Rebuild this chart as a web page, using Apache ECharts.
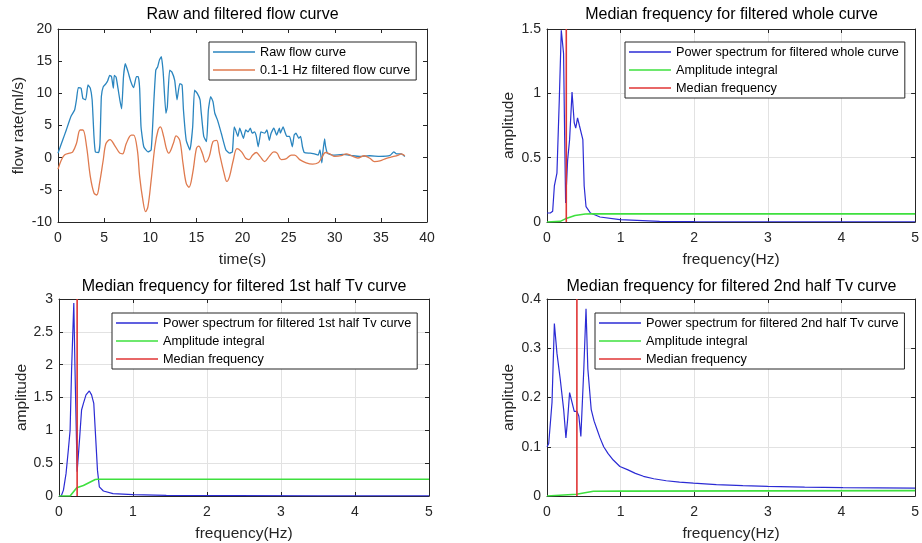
<!DOCTYPE html>
<html><head><meta charset="utf-8">
<script src="https://cdn.jsdelivr.net/npm/echarts@6/dist/echarts.min.js"></script>
<style>html,body{margin:0;padding:0;background:#fff}#c{width:922px;height:543px}</style>
</head><body><div id="c"></div><script>
// ---------- DATA ----------
const rawTime = [0,0.5,0.9,1.4,1.8,2.0,2.2,2.5,2.7,3.0,3.25,3.5,3.7,3.9,4.05,4.4,4.55,4.7,4.9,5.2,5.4,5.6,5.8,6.0,6.1,6.3,6.5,6.7,6.9,7.1,7.3,7.6,7.9,8.2,8.5,8.7,8.85,9.0,9.3,9.75,10.1,10.4,10.6,10.8,11.0,11.2,11.4,11.7,11.85,12.1,12.35,12.65,12.9,13.2,13.45,13.6,13.9,14.3,14.6,14.8,15.1,15.4,15.5,15.8,16.1,16.3,16.55,16.8,17.0,17.3,17.7,18.2,18.6,18.9,19.1,19.25,19.5,19.7,19.9,20.1,20.35,20.6,20.85,21.05,21.3,21.5,21.7,21.9,22.0,22.4,22.65,22.9,23.1,23.4,23.7,24.0,24.1,24.4,24.6,24.8,25.1,25.4,25.6,25.8,26.1,26.3,26.5,26.7,27.3,27.8,28.2,28.4,28.6,28.7,28.9,29.0,29.2,29.8,30.9,31.95,32.7,33.8,34.9,36.0,36.4,36.7,37.2,37.6];
const rawFlow = [0.7,2.7,4.3,6.4,7.4,9.0,10.9,10.8,9.2,9.0,11.3,10.8,9.0,3.3,0.9,0.8,2.2,9.5,11.0,11.5,12.0,12.8,12.6,10.8,12.8,12.5,10.8,9.0,7.6,12.6,14.6,13.3,11.8,10.9,12.6,12.6,10.8,4.8,1.7,0.9,1.2,9.0,13.6,14.1,15.2,15.7,13.3,6.9,7.9,13.6,13.3,12.0,9.0,11.5,11.3,7.4,2.7,1.2,4.8,10.5,10.0,9.0,7.4,3.3,2.5,7.4,9.5,8.7,6.9,5.8,3.8,1.2,0.7,0.9,4.8,4.3,3.3,4.6,3.8,3.0,4.3,4.0,4.6,3.8,4.0,3.3,1.7,3.3,4.0,3.8,4.3,2.7,3.8,4.6,3.5,4.6,3.8,4.8,4.0,3.3,3.3,1.7,3.5,3.8,3.0,3.3,1.7,0.8,0.7,0.6,0.4,1.2,-0.8,0.7,2.9,1.8,0.7,0.4,0.5,0.3,0.2,0.3,0.2,0.35,0.9,0.6,0.6,0.2];
const filtTime = [0,0.35,0.7,1.25,1.6,2.0,2.4,2.7,3.1,3.5,3.9,4.2,4.5,4.9,5.2,5.65,6.1,6.7,7.0,7.4,7.95,8.2,8.6,8.85,9.2,9.5,9.75,10.1,10.5,10.85,11.1,11.45,11.75,12.0,12.5,12.8,13.2,13.55,13.9,14.2,14.6,15.0,15.25,15.65,16.0,16.4,16.8,17.2,17.5,18.0,18.3,18.6,19.0,19.4,19.9,20.35,20.7,21.1,21.5,21.9,22.4,22.9,23.4,23.75,24.2,24.7,25.3,25.65,26.2,26.9,27.6,28.2,28.55,29.0,29.45,30.0,30.7,31.25,31.8,32.5,33.2,33.8,34.3,34.9,35.6,36.3,36.9,37.2,37.6];
const filtFlow = [-1.8,-0.4,0.4,0.7,0.9,2.2,4.3,4.3,1.7,-2.9,-5.5,-5.8,-4.0,-0.4,2.2,2.8,2.0,0.7,0.6,2.2,3.5,3.5,1.2,-2.9,-6.6,-8.4,-7.6,-3.5,1.7,4.3,4.8,3.3,1.4,0.7,2.2,3.4,2.7,-0.9,-4.0,-4.6,-2.4,1.4,1.8,0.7,-0.7,0.2,2.5,2.7,0.7,-2.4,-3.7,-2.9,-0.4,1.4,0.9,-0.1,-0.3,0.4,0.8,0.2,-0.6,0.2,0.9,0.7,-0.3,-0.2,0.4,0.4,-0.3,-0.8,-1.0,-0.8,-0.1,0.8,0.6,0.2,0.3,0.6,0.3,-0.05,0.3,-0.1,-0.6,-0.5,-0.1,0.15,0.4,0.6,0.3];

const wholeFreq = [0,0.045,0.077,0.1,0.135,0.167,0.194,0.2,0.225,0.24,0.253,0.28,0.307,0.34,0.37,0.39,0.415,0.44,0.465,0.487,0.505,0.53,0.59,0.72,0.99,1.53,2,3,4,5];
const wholeAmp  = [0.07,0.07,0.083,0.28,0.38,0.95,1.49,1.49,1.31,0.66,0.147,0.48,0.64,1.01,0.77,0.73,0.81,0.75,0.75,0.64,0.28,0.12,0.07,0.039,0.018,0.005,0.003,0.002,0.002,0.002];
const wholeIntFreq = [0,0.18,0.27,0.38,0.52,0.6,5];
const wholeInt     = [0,0.005,0.03,0.05,0.062,0.063,0.063];
const wholeMedian = 0.262;

const firstFreq = [0,0.03,0.06,0.095,0.126,0.15,0.17,0.2,0.215,0.245,0.28,0.305,0.33,0.365,0.41,0.44,0.47,0.495,0.52,0.545,0.6,0.73,1.0,1.45,2.36,3.5,5];
const firstAmp  = [0,0,0.09,0.34,0.7,1.0,1.92,2.94,2.0,0.37,0.9,1.31,1.41,1.54,1.6,1.54,1.41,0.9,0.39,0.14,0.076,0.036,0.02,0.01,0.005,0.003,0.003];
const firstIntFreq = [0,0.15,0.24,0.33,0.49,0.52,5];
const firstInt     = [0,0,0.127,0.16,0.25,0.255,0.255];
const firstMedian = 0.245;

const secondFreq = [0,0.023,0.045,0.068,0.1,0.135,0.18,0.226,0.257,0.28,0.307,0.34,0.37,0.406,0.433,0.46,0.48,0.5,0.53,0.555,0.6,0.64,0.68,0.72,0.77,0.83,0.9,0.99,1.1,1.2,1.31,1.45,1.62,1.8,1.99,2.3,2.66,3.0,3.5,4.02,4.5,5];
const secondAmp  = [0.1,0.106,0.107,0.19,0.35,0.29,0.237,0.176,0.118,0.155,0.21,0.19,0.172,0.172,0.162,0.121,0.121,0.258,0.38,0.258,0.176,0.152,0.135,0.118,0.1,0.086,0.073,0.06,0.053,0.046,0.04,0.035,0.031,0.028,0.026,0.023,0.021,0.0195,0.018,0.017,0.0165,0.016];
const secondIntFreq = [0,0.4,0.63,1,5];
const secondInt     = [0,0.0035,0.0095,0.01,0.011];
const secondMedian = 0.406;

// ---------- CHART ----------
const FONT = '"Liberation Sans", Arial, sans-serif';
const INK = '#262626';
const zip = (a,b) => a.map((v,i)=>[v,b[i]]);

const grids = [
  {left:58, top:29, width:369, height:193},
  {left:547, top:29, width:369, height:193},
  {left:59, top:299, width:370, height:197},
  {left:547, top:299, width:369, height:197}
];
const axCfg = [
  {x:[0,40,5], y:[-10,20,5], xname:'time(s)', yname:'flow rate(ml/s)', ygap:31, split:false},
  {x:[0,5,1], y:[0,1.5,0.5], xname:'frequency(Hz)', yname:'amplitude', ygap:30, split:true},
  {x:[0,5,1], y:[0,3,0.5], xname:'frequency(Hz)', yname:'amplitude', ygap:29, split:true},
  {x:[0,5,1], y:[0,0.4,0.1], xname:'frequency(Hz)', yname:'amplitude', ygap:30, split:true}
];
const xAxis = [], yAxis = [];
axCfg.forEach((c,gi)=>{
  const common = () => ({type:'value', gridIndex:gi, axisLine:{show:true,onZero:false,lineStyle:{color:INK,width:1}},
    axisTick:{show:true,inside:true,length:4,lineStyle:{color:INK}}});
  xAxis.push(Object.assign(common(), {position:'bottom', min:c.x[0], max:c.x[1], interval:c.x[2],
    name:c.xname, nameLocation:'middle', nameGap:30, nameTextStyle:{fontSize:15.5,color:INK,fontFamily:FONT},
    axisLabel:{fontSize:14,color:INK,fontFamily:FONT,margin:9},
    splitLine:{show:c.split,lineStyle:{color:'#e2e2e2',width:1}}}));
  xAxis.push(Object.assign(common(), {position:'top', min:c.x[0], max:c.x[1], interval:c.x[2],
    axisLabel:{show:false}, splitLine:{show:false}}));
  yAxis.push(Object.assign(common(), {position:'left', min:c.y[0], max:c.y[1], interval:c.y[2],
    name:c.yname, nameLocation:'middle', nameGap:c.ygap, nameTextStyle:{fontSize:15.5,color:INK,fontFamily:FONT},
    axisLabel:{fontSize:14,color:INK,fontFamily:FONT,margin:6},
    splitLine:{show:c.split,lineStyle:{color:'#e2e2e2',width:1}}}));
  yAxis.push(Object.assign(common(), {position:'right', min:c.y[0], max:c.y[1], interval:c.y[2],
    axisLabel:{show:false}, splitLine:{show:false}}));
});

const BLUE = '#2b2bd4', GREEN = '#3ee03e', RED = '#e03434';
function line(name, gi, data, color, width, smooth){
  return {type:'line', name, xAxisIndex:gi*2, yAxisIndex:gi*2, data, symbol:'none', showSymbol:false,
    smooth: smooth||false, lineStyle:{color, width}, itemStyle:{color}, animation:false, silent:true};
}
const series = [
  line('Raw flow curve',0,zip(rawTime,rawFlow),'#2a85bf',1.3,0.15),
  line('0.1-1 Hz filtered flow curve',0,zip(filtTime,filtFlow),'#df7a4e',1.3,0.35),

  line('Power spectrum for filtered whole curve',1,zip(wholeFreq,wholeAmp),BLUE,1.2),
  line('Amplitude integral',1,zip(wholeIntFreq,wholeInt),GREEN,1.6),
  line('Median frequency',1,[[wholeMedian,0],[wholeMedian,1.5]],RED,1.6),

  line('Power spectrum for filtered 1st half Tv curve',2,zip(firstFreq,firstAmp),BLUE,1.2),
  line('Amplitude integral',2,zip(firstIntFreq,firstInt),GREEN,1.6),
  line('Median frequency',2,[[firstMedian,0],[firstMedian,3]],RED,1.6),

  line('Power spectrum for filtered 2nd half Tv curve',3,zip(secondFreq,secondAmp),BLUE,1.2),
  line('Amplitude integral',3,zip(secondIntFreq,secondInt),GREEN,1.6),
  line('Median frequency',3,[[secondMedian,0],[secondMedian,0.4]],RED,1.6)
];

function legend(left, top, names){
  return {left, top, orient:'vertical', icon:'rect', itemWidth:42, itemHeight:1.5, itemGap:2,
    padding:[2,6,2,4], backgroundColor:'#fff', borderColor:INK, borderWidth:1, borderRadius:0,
    selectedMode:false, textStyle:{fontSize:12.7,color:'#000',fontFamily:FONT,lineHeight:16}, data:names};
}
const legends = [
  legend(209,42,['Raw flow curve','0.1-1 Hz filtered flow curve']),
  legend(625,42,['Power spectrum for filtered whole curve','Amplitude integral','Median frequency']),
  legend(112,313,['Power spectrum for filtered 1st half Tv curve','Amplitude integral','Median frequency']),
  legend(595,313,['Power spectrum for filtered 2nd half Tv curve','Amplitude integral','Median frequency'])
];

function title(text, cx, top){
  return {text, left:cx, top, textAlign:'center', padding:0,
    textStyle:{fontSize:16,fontWeight:'normal',color:'#000',fontFamily:FONT}};
}
const titles = [
  title('Raw and filtered flow curve',242.5,7),
  title('Median frequency for filtered whole curve',731.5,7),
  title('Median frequency for filtered 1st half Tv curve',244,279),
  title('Median frequency for filtered 2nd half Tv curve',731.5,279)
];

const chart = echarts.init(document.getElementById('c'), null, {renderer:'canvas'});
chart.setOption({backgroundColor:'#fff', animation:false, title:titles, legend:legends,
  grid:grids, xAxis, yAxis, series});
</script></body></html>
